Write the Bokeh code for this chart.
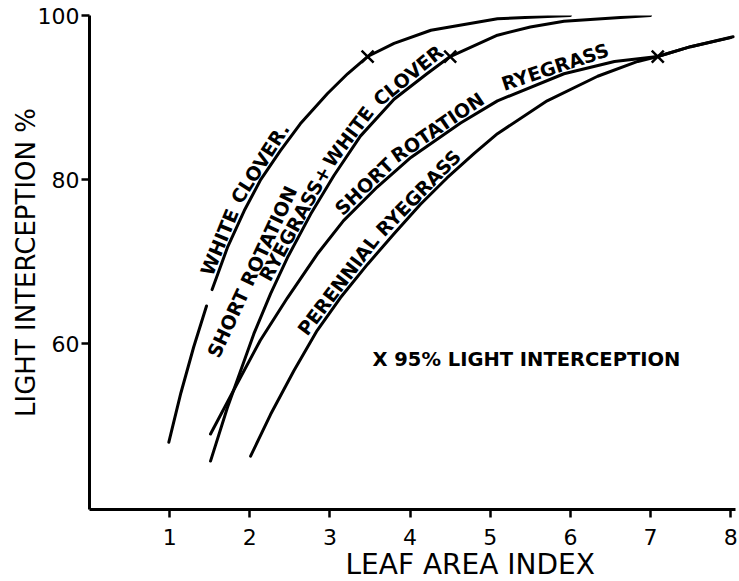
import math
import numpy as np
from bokeh.plotting import figure
from bokeh.models import Range1d, FixedTicker, Label, Title
from bokeh.embed import file_html
from bokeh.resources import INLINE

# Leaf area index vs. light interception (%) for four swards
wc_lai = [0.99, 1.14, 1.30, 1.46, np.nan, 1.53, 1.72, 1.93, 2.13, 2.38, 2.63, 2.97, 3.22, 3.47, 3.80, 4.26, 5.09, 6.0]
wc_li = [48.0, 54.0, 59.6, 64.6, np.nan, 66.6, 71.7, 76.2, 79.9, 83.5, 86.8, 90.5, 92.9, 95.0, 96.6, 98.2, 99.6, 100.0]

srwc_lai = [1.51, 1.72, 2.05, 2.26, 2.47, 2.76, 3.05, 3.38, 3.80, 4.21, 4.50, 5.09, 5.50, 5.92, 7.0]
srwc_li = [45.7, 52.2, 61.2, 66.1, 70.5, 75.8, 80.5, 85.3, 89.8, 92.9, 95.0, 97.6, 98.6, 99.3, 100.0]

srr_lai = [1.51, 1.84, 2.13, 2.47, 2.84, 3.17, 3.59, 4.01, 4.63, 5.09, 5.92, 6.55, 7.09, 7.5, 8.03]
srr_li = [49.0, 55.1, 60.4, 65.6, 70.9, 75.0, 79.1, 82.7, 86.9, 89.6, 92.9, 94.4, 95.0, 96.2, 97.4]

per_lai = [2.01, 2.26, 2.55, 2.84, 3.13, 3.47, 3.80, 4.13, 4.46, 4.80, 5.09, 5.71, 6.34, 6.84, 7.09, 7.5, 8.0]
per_li = [46.3, 51.4, 56.7, 61.6, 65.6, 69.7, 73.4, 77.0, 80.2, 83.2, 85.6, 89.6, 92.6, 94.4, 95.0, 96.2, 97.3]

# LAI at which each sward reaches 95% light interception
cross_lai = [3.47, 4.50, 7.09]
cross_li = [95.0, 95.0, 95.0]

x_ticks = [1, 2, 3, 4, 5, 6, 7, 8]
y_ticks = [60, 80, 100]

FONT = "DejaVu Sans"
W, H = 739, 581
B_LEFT, B_RIGHT, B_TOP, B_BOTTOM = 89, 4, 15, 72
X0, X1, Y0, Y1 = 0.0, 8.06, 39.8, 100.0

p = figure(width=W, height=H, output_backend="svg", toolbar_location=None,
           x_range=Range1d(X0, X1), y_range=Range1d(Y0, Y1))
p.min_border_left = B_LEFT
p.min_border_right = B_RIGHT
p.min_border_top = B_TOP
p.min_border_bottom = B_BOTTOM
p.outline_line_color = None
p.grid.visible = False
p.background_fill_color = "white"
p.border_fill_color = "white"

for ax in (p.xaxis[0], p.yaxis[0]):
    ax.axis_line_width = 3
    ax.axis_line_color = "black"
    ax.major_tick_line_width = 2.5
    ax.major_tick_line_color = "black"
    ax.major_tick_in = 0
    ax.major_tick_out = 8
    ax.minor_tick_line_color = None
    ax.major_label_text_font = FONT
    ax.major_label_text_font_size = "22px"
    ax.major_label_text_color = "black"
    ax.axis_label_text_font = FONT
    ax.axis_label_text_font_style = "normal"
    ax.axis_label_text_color = "black"

p.xaxis.ticker = FixedTicker(ticks=x_ticks)
p.yaxis.ticker = FixedTicker(ticks=y_ticks)
p.xaxis.major_label_standoff = 11
p.yaxis.major_label_standoff = 2
p.yaxis.axis_label = "LIGHT INTERCEPTION %"
p.yaxis.axis_label_text_font_size = "26px"
p.yaxis.axis_label_standoff = -6

# x-axis title, set right of the frame centre
p.add_layout(Title(text="LEAF AREA INDEX", align="left", offset=256, standoff=-4,
                   text_font=FONT, text_font_size="28px", text_font_style="normal",
                   text_color="black"), "below")

for xs, ys in ((wc_lai, wc_li), (srwc_lai, srwc_li), (srr_lai, srr_li), (per_lai, per_li)):
    p.line(xs, ys, line_color="black", line_width=3, line_cap="round", line_join="round")

p.scatter(cross_lai, cross_li, marker="x", size=17, line_color="black", line_width=2.5)

# ---- lettering set along the curves ----
SX = (W - B_LEFT - B_RIGHT) / (X1 - X0)   # px per LAI unit
SY = (H - B_TOP - B_BOTTOM) / (Y1 - Y0)   # px per % unit
LABEL_SIZE = 19
EM = {'A': 0.774, 'C': 0.734, 'E': 0.683, 'G': 0.821, 'H': 0.837, 'I': 0.372,
      'L': 0.637, 'N': 0.837, 'O': 0.850, 'P': 0.733, 'R': 0.770, 'S': 0.720,
      'T': 0.682, 'V': 0.774, 'W': 1.103, 'Y': 0.724, '+': 0.838, '.': 0.380, ' ': 0.348}


def text_px(s, size=LABEL_SIZE):
    return sum(EM.get(c, 0.7) for c in s) * size


def dense(xs, ys):
    pts = [(a, b) for a, b in zip(xs, ys) if not np.isnan(b)]
    cx = np.array([a for a, _ in pts]); cy = np.array([b for _, b in pts])
    fx = np.linspace(cx[0], cx[-1], 4000)
    fy = np.interp(fx, cx, cy)
    arc = np.concatenate([[0.0], np.cumsum(np.hypot(np.diff(fx * SX), np.diff(fy * SY)))])
    return fx, fy, arc


def along(xs, ys, x_start, word, gap):
    """Anchor (data units) and angle so that `word` rides just above the curve."""
    fx, fy, arc = dense(xs, ys)
    px, py = fx * SX, fy * SY
    s0 = np.interp(x_start, fx, arc)
    x_end = np.interp(s0 + text_px(word), arc, fx)
    p0 = np.array([x_start * SX, np.interp(x_start, fx, fy) * SY])
    p1 = np.array([x_end * SX, np.interp(x_end, fx, fy) * SY])
    ang = math.atan2(p1[1] - p0[1], p1[0] - p0[0])
    nrm = np.array([-math.sin(ang), math.cos(ang)])
    seg = (fx >= x_start) & (fx <= x_end)
    bulge = ((px[seg] - p0[0]) * nrm[0] + (py[seg] - p0[1]) * nrm[1]).max() if seg.any() else 0.0
    anchor = p0 + (max(bulge, 0.0) + gap) * nrm
    return anchor[0] / SX, anchor[1] / SY, math.degrees(ang), x_end


def put(txt, lx, ly, ang):
    p.add_layout(Label(x=lx, y=ly, text=txt, angle=ang, angle_units="deg",
                       text_font=FONT, text_font_style="bold",
                       text_font_size=f"{LABEL_SIZE}px", text_color="black",
                       text_align="left", text_baseline="bottom"))


def chain(xs, ys, x_start, words, gap=-1.5):
    x = x_start
    for word, lead in words:
        if lead:
            fx, fy, arc = dense(xs, ys)
            x = np.interp(np.interp(x, fx, arc) + text_px(lead), arc, fx)
        lx, ly, ang, x = along(xs, ys, x, word, gap)
        put(word, lx, ly, ang)


chain(wc_lai, wc_li, 1.58, [("WHITE", ""), ("CLOVER.", " ")])
chain(srwc_lai, srwc_li, 2.31, [("RYEGRASS+", ""), ("WHITE", ""), ("CLOVER", " ")])
for word, xs0 in (("SHORT", 3.19), ("ROTATION", 3.87), ("RYEGRASS", 5.20)):
    chain(srr_lai, srr_li, xs0, [(word, "")])
for word, xs0 in (("PERENNIAL", 2.77), ("RYEGRASS", 3.72)):
    chain(per_lai, per_li, xs0, [(word, "")])

# first line of the two-line mixed-sward name, set in the gap beside it
put("SHORT ROTATION", 1.66, 57.9, 65)

p.add_layout(Label(x=3.53, y=58.05, text="X 95% LIGHT INTERCEPTION",
                   text_font=FONT, text_font_style="bold", text_font_size="19.5px",
                   text_color="black", text_align="left", text_baseline="middle"))

open("out.html", "w").write(file_html(p, INLINE))
